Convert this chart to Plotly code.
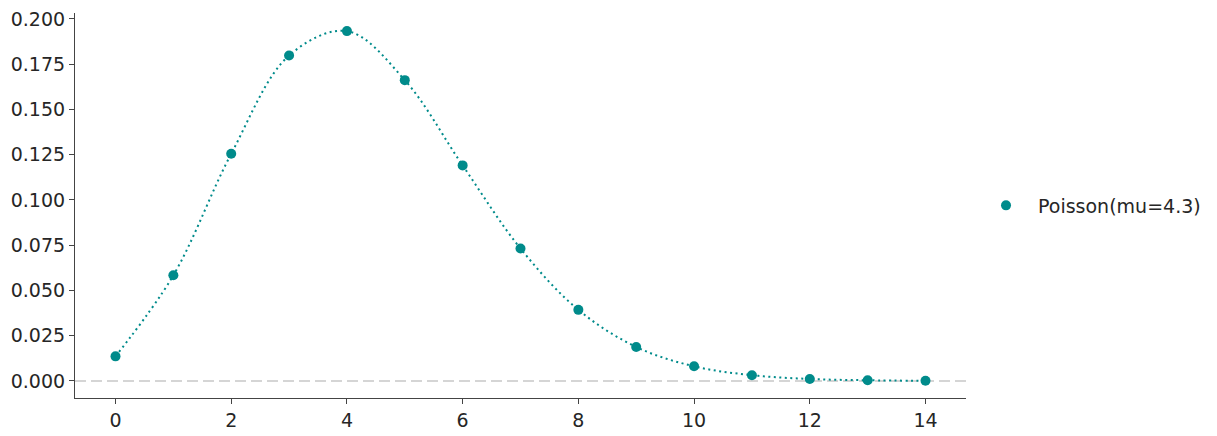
import plotly.graph_objects as go

# Poisson(mu=4.3) probabilities
k_values = [0, 1, 2, 3, 4, 5, 6, 7, 8, 9, 10, 11, 12, 13, 14]
pmf_values = [0.0136, 0.0584, 0.1255, 0.1798, 0.1933, 0.1662, 0.1191, 0.0732,
              0.0393, 0.0188, 0.0081, 0.0032, 0.0011, 0.0004, 0.0001]
series_name = "Poisson(mu=4.3)"
x_ticks = [0, 2, 4, 6, 8, 10, 12, 14]
y_ticks = [0.0, 0.025, 0.05, 0.075, 0.1, 0.125, 0.15, 0.175, 0.2]

teal = "#008b8b"
ink = "#262626"

fig = go.Figure()

# smooth dotted curve through the points
fig.add_trace(go.Scatter(
    x=k_values, y=pmf_values,
    mode="lines",
    line=dict(color=teal, width=2, dash="2px,3.5px", shape="spline", smoothing=1.0),
    showlegend=False,
    hoverinfo="skip",
))

fig.add_trace(go.Scatter(
    x=k_values, y=pmf_values,
    mode="markers",
    marker=dict(color=teal, size=10),
    name=series_name,
))

# dashed zero line
fig.add_shape(type="line", xref="paper", yref="y", x0=0, x1=1, y0=0, y1=0,
              line=dict(color="#c8c8c8", width=1.6, dash="11px,5px"), layer="below")

fig.update_layout(
    width=1217, height=436,
    margin=dict(l=67, r=259, t=5, b=46),
    paper_bgcolor="white",
    plot_bgcolor="white",
    font=dict(family="DejaVu Sans", size=19, color=ink),
    legend=dict(x=1.009, y=0.5, xanchor="left", yanchor="middle",
                font=dict(size=19, color=ink), itemwidth=54),
)

fig.update_xaxes(
    range=[-0.7, 14.7],
    tickvals=x_ticks,
    automargin=False,
    ticklabeloverflow="allow",
    showgrid=False, zeroline=False,
    showline=True, linecolor="#444444", linewidth=1.2,
    ticks="outside", ticklen=5, tickcolor="#444444", tickwidth=1.2,
)
fig.update_yaxes(
    range=[-0.0094, 0.2033],
    tickvals=y_ticks,
    tickformat=".3f",
    automargin=False,
    ticklabeloverflow="allow",
    showgrid=False, zeroline=False,
    showline=True, linecolor="#444444", linewidth=1.2,
    ticks="outside", ticklen=5, tickcolor="#444444", tickwidth=1.2,
)

fig.write_html("out.html")
